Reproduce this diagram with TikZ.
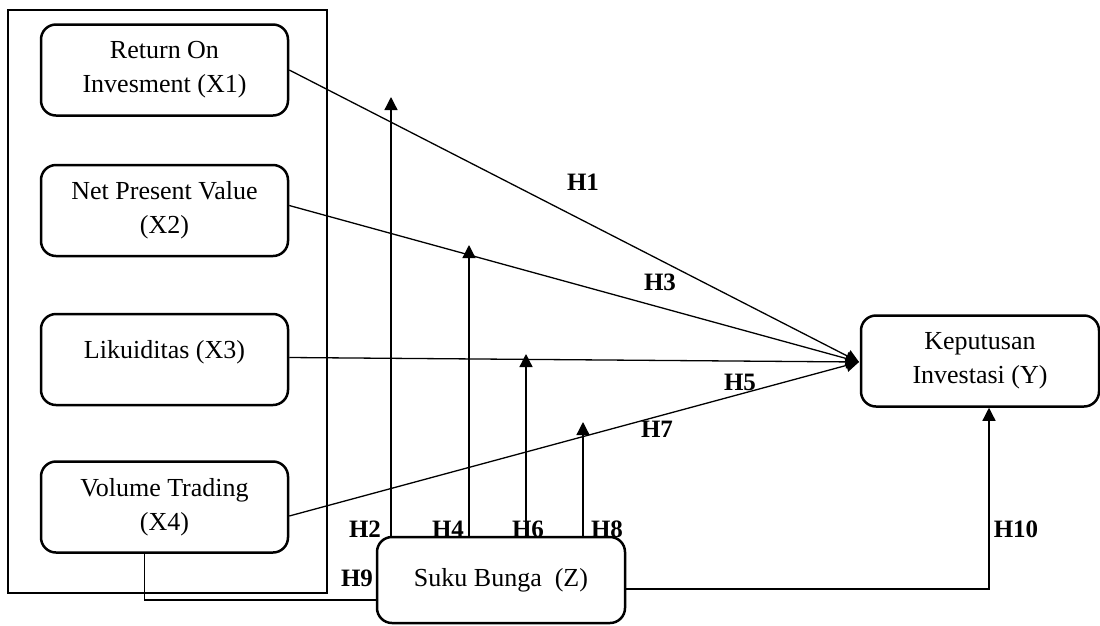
\documentclass[tikz,border=0pt]{standalone}
\usepackage{fontspec}
\setmainfont{Liberation Serif}
\usetikzlibrary{arrows.meta,calc}
\begin{document}
\begin{tikzpicture}[x=1pt,y=-1pt,
  varbox/.style={draw,rounded corners=15pt,line width=2.5pt,minimum width=247pt,minimum height=91pt,
    inner sep=0pt,align=center,font=\fontsize{26}{34}\selectfont},
  vartext/.style={inner sep=0pt,align=center,font=\fontsize{26}{34}\selectfont},
  hlab/.style={inner sep=0pt,font=\fontsize{25}{25}\selectfont\bfseries},
  conn/.style={line width=1.3pt},
  arr/.style={line width=1.3pt,-{Triangle[length=13pt,width=13pt]}}]
\useasboundingbox (0,0) rectangle (1100,625);
% outer frame
\draw[line width=1.3pt] (8,10) rectangle (327,593);
% boxes
\node[varbox] (x1) at (164.5,70) {Return On\\Invesment (X1)};
\node[varbox] (x2) at (164.5,210.5) {Net Present Value\\(X2)};
\node[varbox] (x3) at (164.5,359.5) {};
\node[vartext] (x3t) at (164.5,352) {Likuiditas (X3)};
\node[varbox] (x4) at (164.5,507) {Volume Trading\\(X4)};
\node[varbox,minimum width=238pt] (y) at (980,361) {Keputusan\\Investasi (Y)};
\node[varbox,minimum width=248pt,minimum height=86pt] (su) at (501,580) {Suku Bunga\ \ (Z)};
% direct paths
\coordinate (tip) at (859,362);
\draw[arr] (x1.east) -- (tip);
\draw[arr] ($(x2.east)+(0,-5)$) -- (tip);
\draw[arr] ($(x3.east)+(0,-2)$) -- (tip);
\draw[arr] ($(x4.east)+(0,9)$) -- (tip);
% moderation arrows
\coordinate (t2) at (391,97);
\coordinate (t4) at (469,245);
\coordinate (t6) at (526,354);
\coordinate (t8) at (583,422);
\draw[arr] (t2 |- su.north) -- (t2);
\draw[arr] (t4 |- su.north) -- (t4);
\draw[arr] (t6 |- su.north) -- (t6);
\draw[arr] (t8 |- su.north) -- (t8);
% H9 and H10
\draw[conn] ($(x4.south)+(-20,0)$) |- ($(su.west)+(0,20)$);
\draw[arr] ($(su.east)+(0,9)$) -| ($(y.south)+(9,0)$);
% labels
\node[hlab] (h1) at (583,182) {H1};
\node[hlab] (h3) at (660,282) {H3};
\node[hlab] (h5) at (740,382) {H5};
\node[hlab] (h7) at (657,429) {H7};
\node[hlab] (h2) at (365,529) {H2};
\node[hlab] (h4) at (448,529) {H4};
\node[hlab] (h6) at (528,529) {H6};
\node[hlab] (h8) at (607,529) {H8};
\node[hlab] (h9) at (357,578) {H9};
\node[hlab] (h10) at (1016,529) {H10};
\end{tikzpicture}
\end{document}
